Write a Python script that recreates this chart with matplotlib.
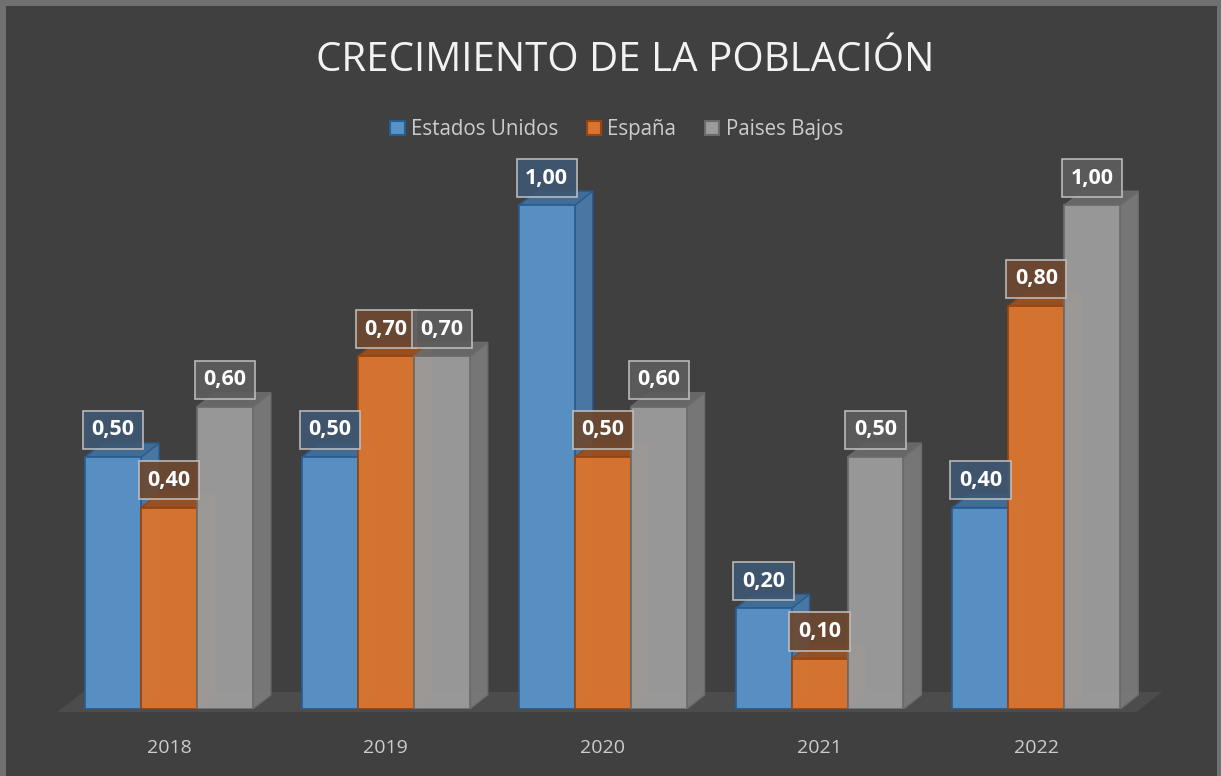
import matplotlib.pyplot as plt
from matplotlib.patches import Polygon, Patch, Rectangle

years = ['2018', '2019', '2020', '2021', '2022']
series = ['Estados Unidos', 'España', 'Paises Bajos']
estados_unidos = [0.5, 0.5, 1.0, 0.2, 0.4]
espana = [0.4, 0.7, 0.5, 0.1, 0.8]
paises_bajos = [0.6, 0.7, 0.6, 0.5, 1.0]

# front, edge, side, top, label box
styles = [
    ('#5992c8', '#285d92', '#4a7aa8', '#416f9c', '#3e5873'),
    ('#da7430', '#964410', '#b45f26', '#9a501f', '#6e4830'),
    ('#9b9b9b', '#6b6b6b', '#7a7a7a', '#6a6a6a', '#5d5d5d'),
]

BG = '#404040'
bar_w = 0.258
dx, dy = 0.083, 0.028

fig = plt.figure(figsize=(12.21, 7.76), dpi=100)
fig.patch.set_facecolor('#707070')
fig.add_artist(Rectangle((0.005, 0), 0.992, 0.992, transform=fig.transFigure,
                         facecolor=BG, edgecolor='none', zorder=0))

ax = fig.add_axes([0.0496, 0.0863, 0.888, 0.714])
ax.set_facecolor('none')
ax.set_xlim(-0.5, 4.5)
ax.set_ylim(0, 1.1)
for s in ax.spines.values():
    s.set_visible(False)
ax.tick_params(left=False, labelleft=False, bottom=False, pad=18)
ax.set_xticks(range(len(years)))
ax.set_xticklabels(years, fontsize=14, color='#cccccc', family='Open Sans')
ax.set_yticks([])

# floor
fx0, fx1 = -0.516, 4.46
floor = Polygon([(fx0, -0.006), (fx1, -0.006), (fx1 + 0.12, 0.034), (fx0 + 0.12, 0.034)],
                closed=True, facecolor='#4c4c4c', edgecolor='none', zorder=1,
                clip_on=False)
ax.add_patch(floor)

all_vals = [estados_unidos, espana, paises_bajos]
z = 2
for j, vals in enumerate(all_vals):
    front, edge, side, top, lab = styles[j]
    xs = [i + (j - 1) * bar_w for i in range(len(years))]
    for x, v in zip(xs, vals):
        x0, x1 = x - bar_w / 2, x + bar_w / 2
        ax.add_patch(Polygon([(x1, 0), (x1 + dx, dy), (x1 + dx, v + dy), (x1, v)],
                             closed=True, facecolor=side, edgecolor=edge, lw=1,
                             alpha=0.95, zorder=z + j * 0.1))
        ax.add_patch(Polygon([(x0, v), (x1, v), (x1 + dx, v + dy), (x0 + dx, v + dy)],
                             closed=True, facecolor=top, edgecolor=edge, lw=1,
                             alpha=0.95, zorder=z + j * 0.1))
    ax.bar(xs, vals, width=bar_w, color=front, edgecolor=edge, linewidth=1.3,
           alpha=0.97, zorder=z + j * 0.1 + 0.05)
    for x, v in zip(xs, vals):
        ax.text(x, v + 0.054, f'{v:.2f}'.replace('.', ','), ha='center', va='center',
                fontsize=15.5, fontweight='bold', color='white', family='Open Sans',
                zorder=10, clip_on=False,
                bbox=dict(boxstyle='square,pad=0.4', facecolor=lab, alpha=0.9,
                          edgecolor='#c4c4c4', linewidth=1.2))

fig.text(0.512, 0.922, 'CRECIMIENTO DE LA POBLACIÓN', ha='center', va='center',
         fontsize=29, color='#f2f2f2', family='Open Sans')

handles = [Patch(facecolor=s[0], edgecolor=s[1], linewidth=1.5) for s in styles]
leg = fig.legend(handles, series, loc='center', bbox_to_anchor=(0.505, 0.833), ncol=3,
                 frameon=False, prop={'family': 'Open Sans', 'size': 14.8},
                 handlelength=0.7, handleheight=0.7, handletextpad=0.3,
                 columnspacing=1.4, labelcolor='#cccccc')

fig.savefig('out.png', dpi=100, facecolor=fig.get_facecolor())
